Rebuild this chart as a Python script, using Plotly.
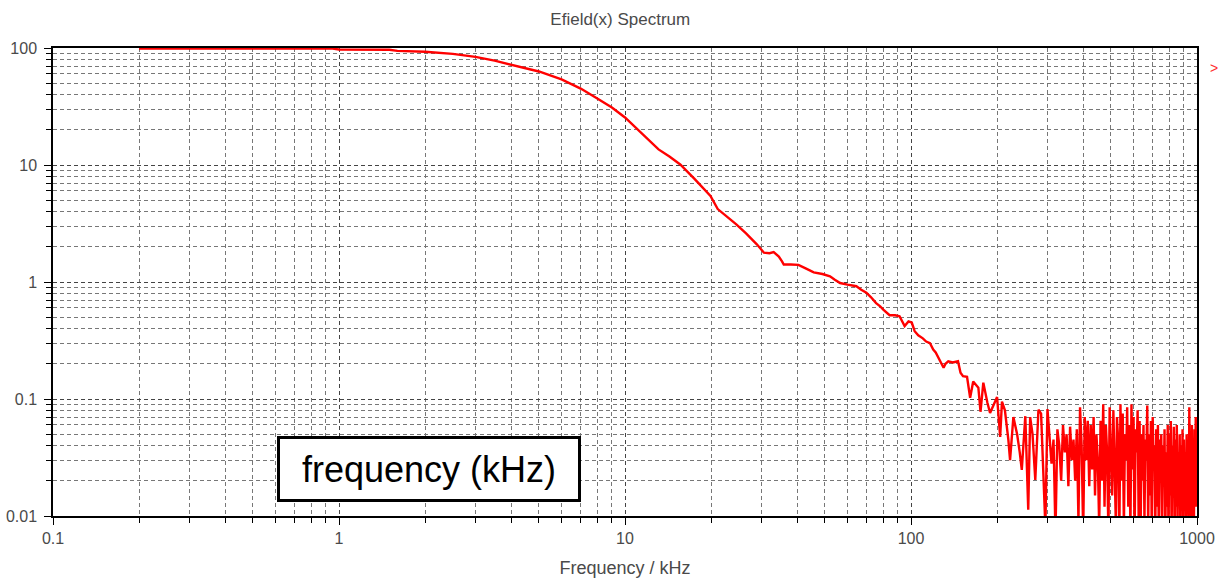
import plotly.graph_objects as go

# ---- data (frequency in kHz, spectrum magnitude) ----
smooth_freq = [0.2, 0.5, 0.95, 1.0, 1.5, 1.6, 2.0, 2.5, 3.0, 3.5, 4.0, 5.0, 6.0, 7.0, 8.0, 9.0,
               10, 11.5, 13.1, 14.3, 15.6, 17.5, 19.9, 21.1, 22.8, 24.5, 26.5, 28.9, 30.6, 32, 33.1,
               34.5, 35.4, 35.9, 38, 40.4, 43, 45.7, 49, 52.1, 54, 56.5, 60, 64.4, 67, 69.8,
               72.5, 75.5, 78, 80, 84.2, 88, 91.2, 95, 98, 100.6, 103, 106, 110, 113, 116.5,
               119.6, 122, 125, 128, 130, 132, 135, 140, 146]
smooth_val = [99, 99, 99, 97, 96.5, 94.5, 93, 89, 84, 78, 72, 63, 54, 45, 37, 31,
              25.5, 18.5, 13.6, 11.8, 10.1, 7.6, 5.43, 4.2, 3.6, 3.11, 2.6, 2.1, 1.78, 1.76, 1.8,
              1.65, 1.5, 1.41, 1.41, 1.4, 1.3, 1.21, 1.17, 1.12, 1.05, 0.98, 0.95, 0.92, 0.86, 0.81,
              0.74, 0.66, 0.62, 0.58, 0.52, 0.52, 0.51, 0.42, 0.46, 0.45, 0.38, 0.35, 0.33, 0.31, 0.30,
              0.265, 0.25, 0.22, 0.2, 0.185, 0.2, 0.21, 0.205, 0.21]

mid_freq = [149, 152, 157, 161, 165, 172, 175, 179, 185, 189, 200, 205, 208, 213, 219, 222,
            228, 235, 240, 244, 251, 257, 261, 266, 272, 279]
mid_val = [0.168, 0.157, 0.155, 0.1025, 0.141, 0.125, 0.0778, 0.138, 0.093, 0.076, 0.104, 0.0475,
           0.095, 0.08, 0.0448, 0.030, 0.070, 0.05, 0.035, 0.0248, 0.0713, 0.0113, 0.070, 0.05,
           0.0203, 0.081]

noise_freq = [285, 290, 295, 300, 305, 310, 315, 320, 325, 330, 335, 340,
              345, 350, 355, 360, 365, 370, 375, 380, 385, 390, 395, 400,
              405, 410, 415, 420, 425, 430, 435, 440, 445, 450, 455, 460,
              465, 470, 475, 480, 485, 490, 495, 500, 505, 510, 515, 520,
              525, 530, 535, 540, 545, 550, 555, 560, 565, 570, 575, 580,
              585, 590, 595, 600, 605, 610, 615, 620, 625, 630, 635, 640,
              645, 650, 655, 660, 665, 670, 675, 680, 685, 690, 695, 700,
              705, 710, 715, 720, 725, 730, 735, 740, 745, 750, 755, 760,
              765, 770, 775, 780, 785, 790, 795, 800, 805, 810, 815, 820,
              825, 830, 835, 840, 845, 850, 855, 860, 865, 870, 875, 880,
              885, 890, 895, 900, 905, 910, 915, 920, 925, 930, 935, 940,
              945, 950, 955, 960, 965, 970, 975, 980, 985, 990, 995, 1000]
noise_val = [0.075, 0.022, 0.008, 0.082, 0.05, 0.028, 0.045, 0.007, 0.055, 0.04, 0.02, 0.06,
             0.035, 0.05, 0.018, 0.058, 0.03, 0.045, 0.02, 0.055, 0.009, 0.085, 0.04, 0.007,
             0.07, 0.03, 0.065, 0.018, 0.06, 0.025, 0.07, 0.015, 0.05, 0.03, 0.008, 0.065,
             0.02, 0.09, 0.012, 0.06, 0.035, 0.007, 0.085, 0.04, 0.015, 0.08, 0.03, 0.009,
             0.07, 0.045, 0.006, 0.09, 0.02, 0.075, 0.008, 0.05, 0.03, 0.085, 0.012, 0.06,
             0.007, 0.09, 0.025, 0.07, 0.006, 0.055, 0.035, 0.08, 0.01, 0.065, 0.007, 0.05,
             0.02, 0.06, 0.009, 0.045, 0.03, 0.088, 0.008, 0.05, 0.015, 0.065, 0.006, 0.07,
             0.025, 0.04, 0.008, 0.055, 0.012, 0.06, 0.007, 0.045, 0.02, 0.05, 0.006, 0.04,
             0.018, 0.055, 0.007, 0.035, 0.012, 0.06, 0.006, 0.05, 0.015, 0.065, 0.007, 0.04,
             0.02, 0.058, 0.006, 0.045, 0.012, 0.06, 0.008, 0.035, 0.018, 0.05, 0.006, 0.04,
             0.012, 0.055, 0.007, 0.045, 0.015, 0.035, 0.008, 0.05, 0.02, 0.04, 0.007, 0.085,
             0.012, 0.03, 0.008, 0.06, 0.01, 0.045, 0.007, 0.055, 0.015, 0.07, 0.012, 0.045]

x_ticks = [0.1, 1, 10, 100, 1000]
x_tick_labels = ["0.1", "1", "10", "100", "1000"]
y_ticks = [0.01, 0.1, 1, 10, 100]
y_tick_labels = ["0.01", "0.1", "1", "10", "100"]

title_text = "Efield(x) Spectrum"
x_title = "Frequency / kHz"
box_text = "frequency (kHz)"

freq = smooth_freq + mid_freq + noise_freq
vals = smooth_val + mid_val + noise_val

FONT = "Liberation Sans, Arial, sans-serif"
GRID_DASH = "4px,3px"

fig = go.Figure()
fig.add_trace(go.Scatter(x=freq, y=vals, mode="lines",
                         line=dict(color="#ff0000", width=2.4),
                         showlegend=False, hoverinfo="skip"))

axis_common = dict(
    type="log", automargin=False,
    showline=True, linecolor="black", linewidth=1.5, mirror=True,
    ticks="outside", ticklen=7, tickcolor="black", tickwidth=1,
    showgrid=True, gridcolor="#444444", gridwidth=1, griddash=GRID_DASH,
    tickfont=dict(family=FONT, size=16, color="#4a4a4a"),
    zeroline=False,
    minor=dict(ticks="outside", ticklen=5, tickcolor="black", dtick="D1",
               showgrid=True, gridcolor="#777777", gridwidth=1, griddash=GRID_DASH),
)

fig.update_xaxes(range=[-1, 3], tickvals=x_ticks, ticktext=x_tick_labels,
                 title=dict(text=x_title, font=dict(family=FONT, size=18, color="#4a4a4a"),
                            standoff=15),
                 **axis_common)
fig.update_yaxes(range=[-2, 2], tickvals=y_ticks, ticktext=y_tick_labels,
                 ticklabelstandoff=4, **axis_common)

fig.update_layout(
    width=1221, height=585,
    margin=dict(l=53, r=24, t=48, b=69),
    paper_bgcolor="white", plot_bgcolor="white",
    title=dict(text=title_text, x=0.508, xanchor="center", y=0.967, yanchor="middle",
               font=dict(family=FONT, size=17, color="#4a4a4a")),
    annotations=[
        dict(text=box_text, xref="paper", yref="paper", x=0.329, y=0.0995,
             xanchor="center", yanchor="middle", showarrow=False,
             font=dict(family=FONT, size=36, color="black"),
             bgcolor="white", bordercolor="black", borderwidth=3, borderpad=0,
             width=298, height=60),
        dict(text="&gt;", xref="paper", yref="paper", x=1.0, y=0.957, xshift=17,
             xanchor="center", yanchor="middle", showarrow=False,
             font=dict(family=FONT, size=14, color="#ff3030")),
    ],
)

fig.write_html("out.html", config={"displayModeBar": False},
               post_script="document.body.style.margin='0';document.body.style.overflow='hidden';")
